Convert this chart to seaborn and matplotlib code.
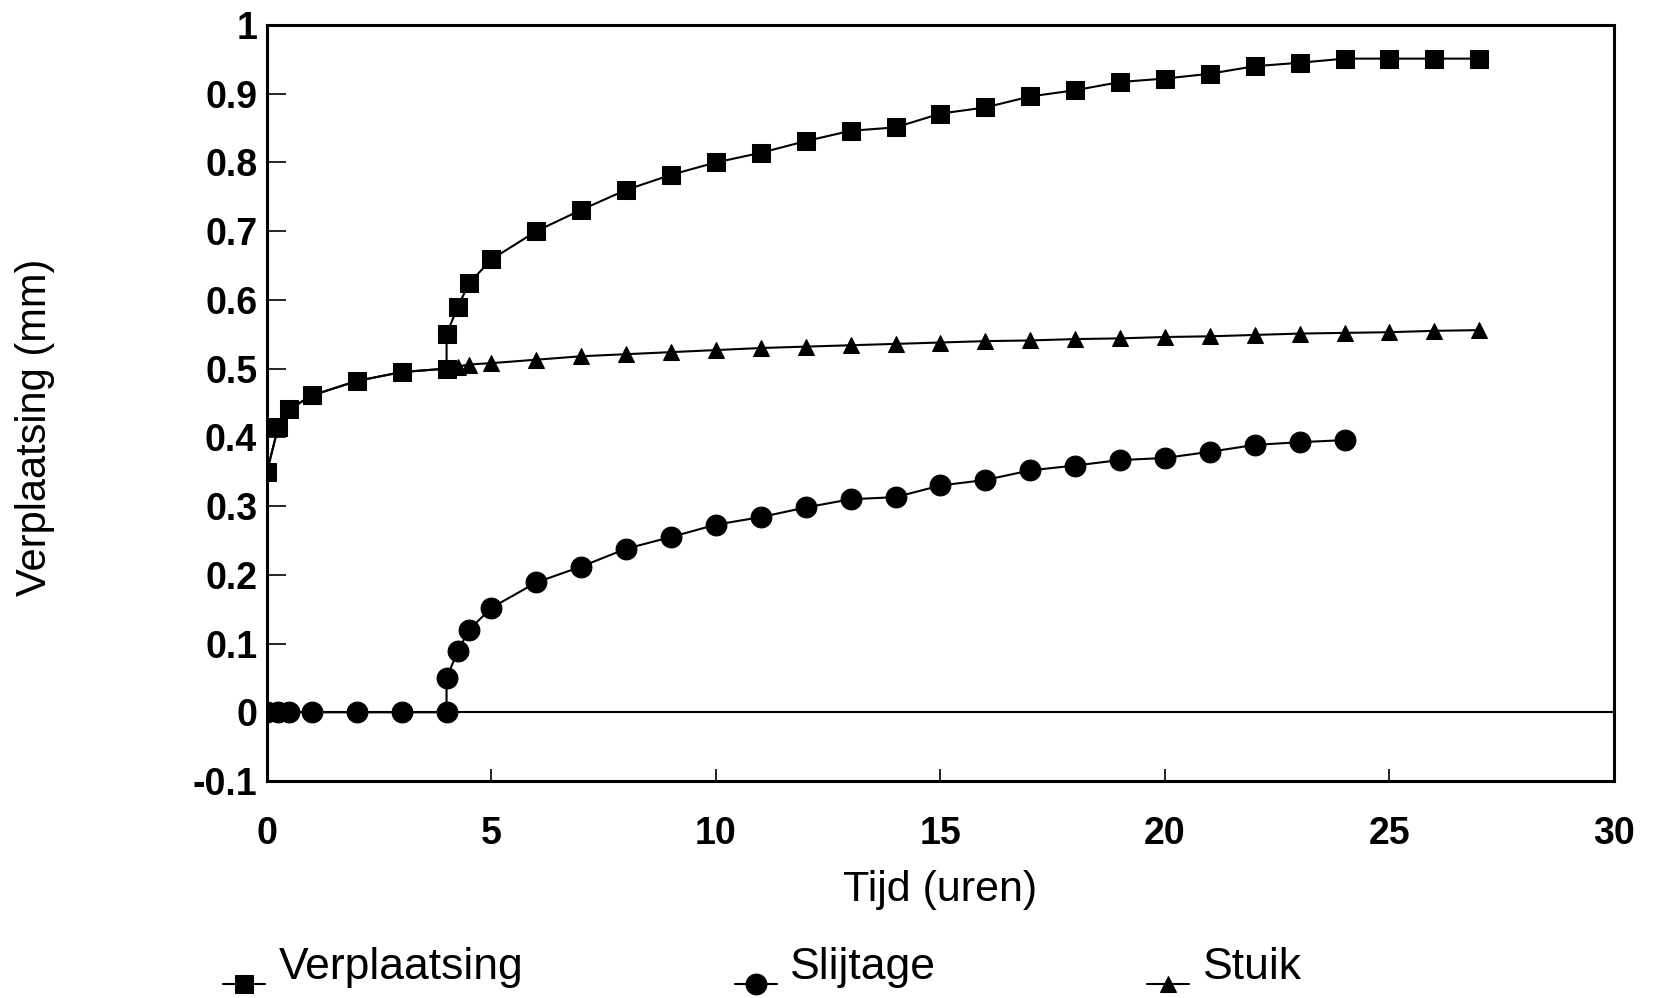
import matplotlib
matplotlib.use("Agg")
import matplotlib.pyplot as plt
import matplotlib.transforms as mtransforms
import seaborn as sns
import pandas as pd

# ---- data ----
tijd_verpl = [0, 0.25, 0.5, 1, 2, 3, 4, 4, 4.25, 4.5, 5, 6, 7, 8, 9, 10, 11, 12, 13, 14,
              15, 16, 17, 18, 19, 20, 21, 22, 23, 24, 25, 26, 27]
verplaatsing = [0.35, 0.415, 0.441, 0.461, 0.482, 0.495, 0.50, 0.55, 0.59, 0.624, 0.659,
                0.70, 0.731, 0.760, 0.782, 0.80, 0.814, 0.831, 0.846, 0.851,
                0.871, 0.880, 0.896, 0.905, 0.917, 0.922, 0.929, 0.94, 0.945, 0.951,
                0.951, 0.951, 0.951]

tijd_slij = [0, 0.25, 0.5, 1, 2, 3, 4, 4, 4.25, 4.5, 5, 6, 7, 8, 9, 10, 11, 12, 13, 14,
             15, 16, 17, 18, 19, 20, 21, 22, 23, 24]
slijtage = [0, 0, 0, 0, 0, 0, 0, 0.05, 0.089, 0.12, 0.152, 0.189, 0.212, 0.238, 0.255,
            0.273, 0.284, 0.298, 0.310, 0.313, 0.330, 0.338, 0.352, 0.359, 0.367,
            0.370, 0.379, 0.389, 0.393, 0.396]

tijd_stuik = [0, 0.25, 0.5, 1, 2, 3, 4, 4.25, 4.5, 5, 6, 7, 8, 9, 10, 11, 12, 13, 14,
              15, 16, 17, 18, 19, 20, 21, 22, 23, 24, 25, 26, 27]
stuik = [0.35, 0.415, 0.441, 0.461, 0.482, 0.495, 0.50, 0.503, 0.506, 0.508, 0.513,
         0.518, 0.521, 0.524, 0.527, 0.530, 0.532, 0.534, 0.536, 0.538, 0.540, 0.541,
         0.543, 0.544, 0.546, 0.547, 0.549, 0.551, 0.552, 0.553, 0.555, 0.556]

x_ticks = [0, 5, 10, 15, 20, 25, 30]
y_ticks = [-0.1, 0, 0.1, 0.2, 0.3, 0.4, 0.5, 0.6, 0.7, 0.8, 0.9, 1.0]
y_labels = ["-0.1", "0", "0.1", "0.2", "0.3", "0.4", "0.5", "0.6", "0.7", "0.8", "0.9", "1"]

sns.set_theme(style="white")
plt.rcParams["font.family"] = ["Liberation Sans", "DejaVu Sans"]
plt.rcParams["text.color"] = "black"
plt.rcParams["axes.labelcolor"] = "black"
plt.rcParams["xtick.color"] = "black"
plt.rcParams["ytick.color"] = "black"

fig = plt.figure(figsize=(16.54, 9.98), dpi=100)
ax = fig.add_axes([0.1614, 0.2174, 0.9758 - 0.1614, 0.975 - 0.2174])

ax.axhline(0, color="black", lw=1.5, zorder=1)

df_v = pd.DataFrame({"Tijd": tijd_verpl, "Waarde": verplaatsing})
df_s = pd.DataFrame({"Tijd": tijd_slij, "Waarde": slijtage})
df_t = pd.DataFrame({"Tijd": tijd_stuik, "Waarde": stuik})

sns.lineplot(data=df_t, x="Tijd", y="Waarde", estimator=None, sort=False, ax=ax,
             color="black", lw=1.5, marker="^", markersize=12, markeredgecolor="black",
             label="Stuik", zorder=3)
sns.lineplot(data=df_s, x="Tijd", y="Waarde", estimator=None, sort=False, ax=ax,
             color="black", lw=1.5, marker="o", markersize=15, markeredgecolor="black",
             label="Slijtage", zorder=3)
sns.lineplot(data=df_v, x="Tijd", y="Waarde", estimator=None, sort=False, ax=ax,
             color="black", lw=1.5, marker="s", markersize=12.5, markeredgecolor="black",
             label="Verplaatsing", zorder=4)

ax.set_xlim(0, 30)
ax.set_ylim(-0.1, 1.0)
ax.set_xticks(x_ticks)
ax.set_xticklabels([str(t) for t in x_ticks], fontsize=27, fontweight="bold")
ax.set_yticks(y_ticks)
ax.set_yticklabels(y_labels, fontsize=27, fontweight="bold")
ax.tick_params(axis="both", direction="in", length=14, width=1.2, color="black",
               bottom=True, left=True)
ax.tick_params(axis="y", pad=7)
ax.tick_params(axis="x", length=9, pad=25)
for sp in ax.spines.values():
    sp.set_color("black")
    sp.set_linewidth(2.2)

ax.set_xlabel("Tijd (uren)", fontsize=31, labelpad=13)
ax.set_ylabel("Verplaatsing (mm)", fontsize=30)
ax.yaxis.set_label_coords(-0.157, 0.468)

handles, labels = ax.get_legend_handles_labels()
order = [labels.index("Verplaatsing"), labels.index("Slijtage"), labels.index("Stuik")]
ax.get_legend().remove()
leg = fig.legend([handles[i] for i in order], [labels[i] for i in order],
                 loc="center", bbox_to_anchor=(0.461, 0.010), ncol=3, frameon=False,
                 prop={"size": 32}, borderpad=0, borderaxespad=0,
                 handlelength=0.95, handletextpad=0.3, columnspacing=4.75)
shift = mtransforms.ScaledTranslation(0, 0.21, fig.dpi_scale_trans)
for t in leg.get_texts():
    t.set_transform(t.get_transform() + shift)

fig.savefig("out.png", dpi=100, facecolor="white")
